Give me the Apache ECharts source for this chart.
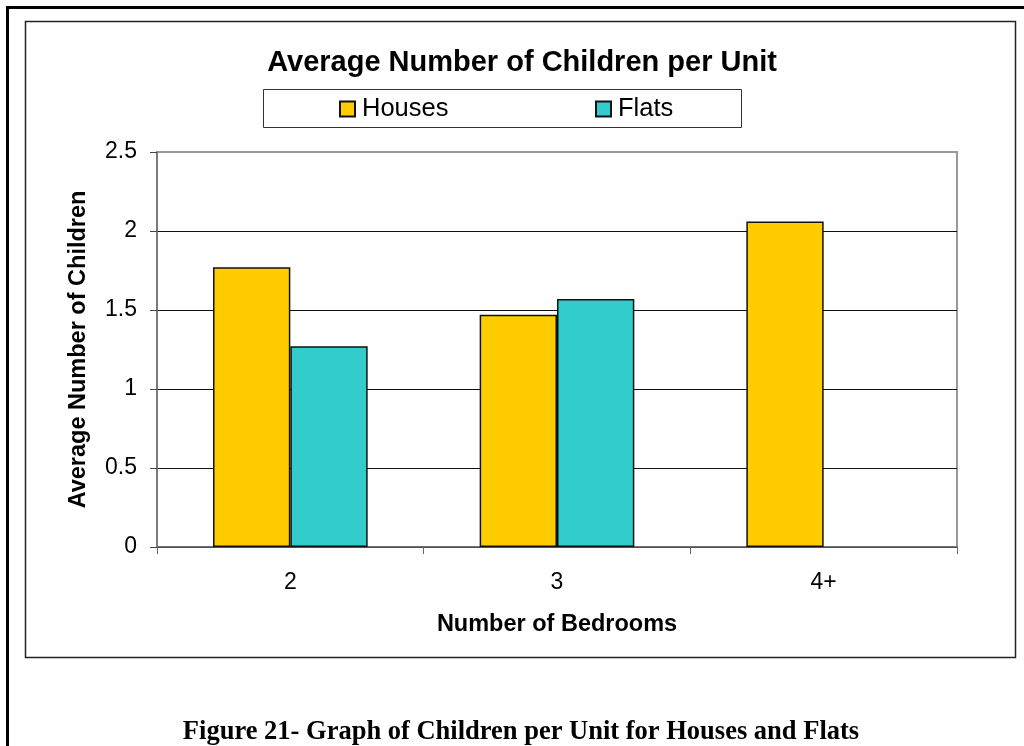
<!DOCTYPE html>
<html>
<head>
<meta charset="utf-8">
<script src="https://cdn.jsdelivr.net/npm/echarts@6/dist/echarts.min.js"></script>
<style>
  html, body { margin: 0; padding: 0; background: #fff; }
  #chart { width: 1024px; height: 746px; }
</style>
</head>
<body>
<div id="chart"></div>
<script>
// Bedroom categories and average children per unit
const bedrooms = ['2', '3', '4+'];
const housesValues = [1.77, 1.47, 2.06];
const flatsValues = [1.27, 1.57, null];
const yTicks = { min: 0, max: 2.5, interval: 0.5 };

const chartTitle = 'Average Number of Children per Unit';
const yAxisTitle = 'Average Number of Children';
const xAxisTitle = 'Number of Bedrooms';
const captionText = 'Figure 21- Graph of Children per Unit for Houses and Flats';

const SANS = '"Liberation Sans", Arial, sans-serif';
const SERIF = '"Liberation Serif", "Times New Roman", serif';

const chart = echarts.init(document.getElementById('chart'), null, { renderer: 'canvas' });

chart.setOption({
  backgroundColor: '#ffffff',
  animation: false,
  title: [
    {
      text: chartTitle,
      left: 517, top: 43, textAlign: 'center',
      textStyle: { fontFamily: SANS, fontSize: 29, fontWeight: 'bold', color: '#000' }
    },
    {
      text: captionText,
      left: 516, top: 714, textAlign: 'center',
      textStyle: { fontFamily: SERIF, fontSize: 26.5, fontWeight: 'bold', color: '#000' }
    }
  ],
  legend: [
    {
      data: ['Houses'], left: 339, top: 96, padding: 0,
      itemWidth: 15, itemHeight: 15, itemGap: 6,
      icon: 'rect',
      textStyle: { fontFamily: SANS, fontSize: 25.5, color: '#000', padding: [0, 0, 0, 2] }
    },
    {
      data: ['Flats'], left: 595, top: 96, padding: 0,
      itemWidth: 15, itemHeight: 15, itemGap: 6,
      icon: 'rect',
      textStyle: { fontFamily: SANS, fontSize: 25.5, color: '#000', padding: [0, 0, 0, 2] }
    }
  ],
  grid: {
    left: 157, top: 152, right: 67, bottom: 199,
    show: true, borderColor: '#999999', borderWidth: 2, backgroundColor: '#ffffff'
  },
  xAxis: {
    type: 'category',
    data: bedrooms,
    name: xAxisTitle,
    nameLocation: 'middle',
    nameGap: 66,
    nameTextStyle: { fontFamily: SANS, fontSize: 23.5, fontWeight: 'bold', color: '#000' },
    axisLine: { lineStyle: { color: '#666666', width: 1.5 } },
    axisTick: { show: true, alignWithLabel: false, length: 7, lineStyle: { color: '#666666' } },
    axisLabel: { fontFamily: SANS, fontSize: 23, color: '#000', margin: 24 },
    splitLine: { show: false }
  },
  yAxis: {
    type: 'value',
    min: yTicks.min, max: yTicks.max, interval: yTicks.interval,
    name: yAxisTitle,
    nameLocation: 'middle',
    nameGap: 66,
    nameRotate: 90,
    nameTextStyle: { fontFamily: SANS, fontSize: 23.5, fontWeight: 'bold', color: '#000' },
    axisLine: { show: true, lineStyle: { color: '#707070', width: 1.5 } },
    axisTick: { show: true, inside: false, length: 7, lineStyle: { color: '#444444' } },
    axisLabel: { fontFamily: SANS, fontSize: 23, color: '#000', margin: 20 },
    splitLine: {
      show: true,
      lineStyle: { color: ['#111111', '#111111', '#111111', '#111111', '#111111', '#999999'], width: 1.2 }
    }
  },
  series: [
    {
      name: 'Houses', type: 'bar', data: housesValues,
      barGap: '0%', barCategoryGap: '42%',
      itemStyle: { color: '#FFCC00', borderColor: '#111111', borderWidth: 1.5 }
    },
    {
      name: 'Flats', type: 'bar', data: flatsValues,
      barGap: '0%', barCategoryGap: '42%',
      itemStyle: { color: '#33CCCC', borderColor: '#111111', borderWidth: 1.5 }
    }
  ],
  graphic: [
    // page frame: heavy top and left rule
    { type: 'line', silent: true, shape: { x1: 6, y1: 7.5, x2: 1024, y2: 7.5 }, style: { stroke: '#000', lineWidth: 3 }, z: 10 },
    { type: 'line', silent: true, shape: { x1: 7.5, y1: 6, x2: 7.5, y2: 746 }, style: { stroke: '#000', lineWidth: 3 }, z: 10 },
    // chart area border
    { type: 'rect', silent: true, shape: { x: 25.5, y: 21.5, width: 990, height: 636 }, style: { fill: null, stroke: '#222', lineWidth: 1.5 }, z: -1 },
    // legend frame
    { type: 'rect', silent: true, shape: { x: 263.5, y: 89.5, width: 478, height: 38 }, style: { fill: '#fff', stroke: '#333', lineWidth: 1 }, z: -1 }
  ]
});
</script>
</body>
</html>
